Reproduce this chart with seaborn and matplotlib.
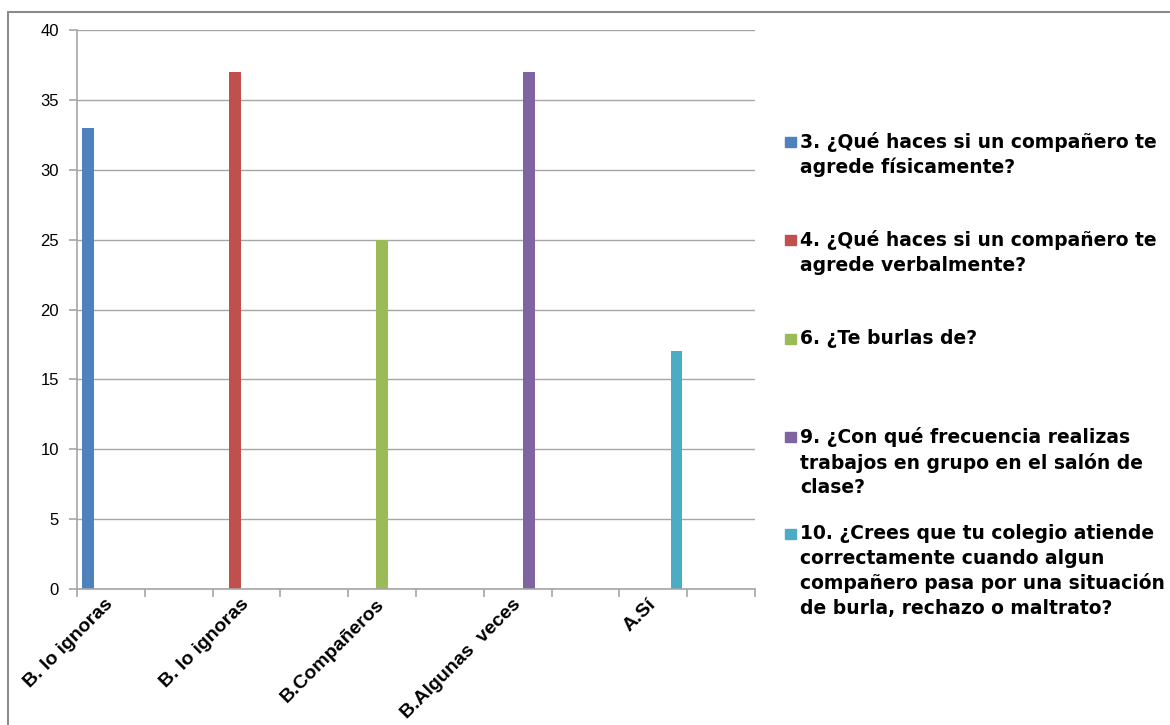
import matplotlib
matplotlib.use("Agg")
import matplotlib.pyplot as plt
import seaborn as sns
import pandas as pd
import numpy as np
from matplotlib.lines import Line2D
from matplotlib.patches import Rectangle

# one bar per question, each sitting in its own answer slot
series = [
    "3. ¿Qué haces si un compañero te\nagrede físicamente?",
    "4. ¿Qué haces si un compañero te\nagrede verbalmente?",
    "6. ¿Te burlas de?",
    "9. ¿Con qué frecuencia realizas\ntrabajos en grupo en el salón de\nclase?",
    "10. ¿Crees que tu colegio atiende\ncorrectamente cuando algun\ncompañero pasa por una situación\nde burla, rechazo o maltrato?",
]
answers = ["B. lo ignoras", "B. lo ignoras", "B.Compañeros", "B.Algunas  veces", "A.Sí"]
values = [33, 37, 25, 37, 17]
slots = [0, 2, 4, 6, 8]
n_slots = 10
colors = ["#4F81BD", "#C0504D", "#9BBB59", "#8064A2", "#4BACC6"]

df = pd.DataFrame({"slot": slots, "serie": series, "valor": values})

sns.set_style("white")
plt.rcParams["font.family"] = ["Liberation Sans", "DejaVu Sans"]
plt.rcParams["text.color"] = "black"
plt.rcParams["xtick.color"] = "black"
plt.rcParams["ytick.color"] = "black"

fig = plt.figure(figsize=(11.7, 7.25), dpi=100)
ax = fig.add_axes([77 / 1170, 1 - 589 / 725, (755 - 77) / 1170, (589 - 30) / 725])

sns.barplot(data=df, x="slot", y="valor", hue="serie", order=list(range(n_slots)),
            hue_order=series, palette=colors, width=0.85, dodge=True,
            saturation=1, legend=False, linewidth=0, ax=ax)

grey = "#a6a6a6"
ax.set_ylim(0, 40)
ax.set_yticks(np.arange(0, 41, 5))
ax.set_xlim(-0.5, n_slots - 0.5)
ax.yaxis.grid(True, color=grey, lw=1)
ax.set_axisbelow(True)
for s in ["top", "right"]:
    ax.spines[s].set_visible(False)
for s in ["left", "bottom"]:
    ax.spines[s].set_color(grey)
    ax.spines[s].set_linewidth(1.2)
ax.set_xlabel("")
ax.set_ylabel("")

ax.set_xticks(slots)
ax.set_xticklabels(answers, rotation=45, ha="right", va="center",
                   rotation_mode="anchor", fontsize=14, fontweight="bold")
ax.set_xticks(np.arange(-0.5, n_slots, 1), minor=True)
ax.tick_params(axis="x", which="major", bottom=True, length=0, pad=9)
ax.tick_params(axis="x", which="minor", bottom=True, length=6, color=grey, width=1.2)
ax.tick_params(axis="y", left=True, length=6, color=grey, width=1.2, labelsize=12, pad=7)

# legend drawn by hand so the squares line up with the first line of text
tops = [142, 240, 339, 437, 534]
for name, c, yc in zip(series, colors, tops):
    fig.add_artist(Rectangle((785 / 1170, 1 - (yc + 5) / 725), 11 / 1170, 10 / 725,
                             color=c, transform=fig.transFigure))
    fig.text(800 / 1170, 1 - (yc - 10) / 725, name, ha="left", va="top",
             fontsize=13.5, fontweight="bold", linespacing=1.37,
             family=["DejaVu Sans"])

# chart-area border (top and left visible)
fig.add_artist(Line2D([8 / 1170, 1], [1 - 12 / 725] * 2, color="#8c8c8c", lw=1.5))
fig.add_artist(Line2D([8 / 1170] * 2, [1 - 12 / 725, 0], color="#8c8c8c", lw=1.5))

fig.savefig("out.png", dpi=100, facecolor="white")
